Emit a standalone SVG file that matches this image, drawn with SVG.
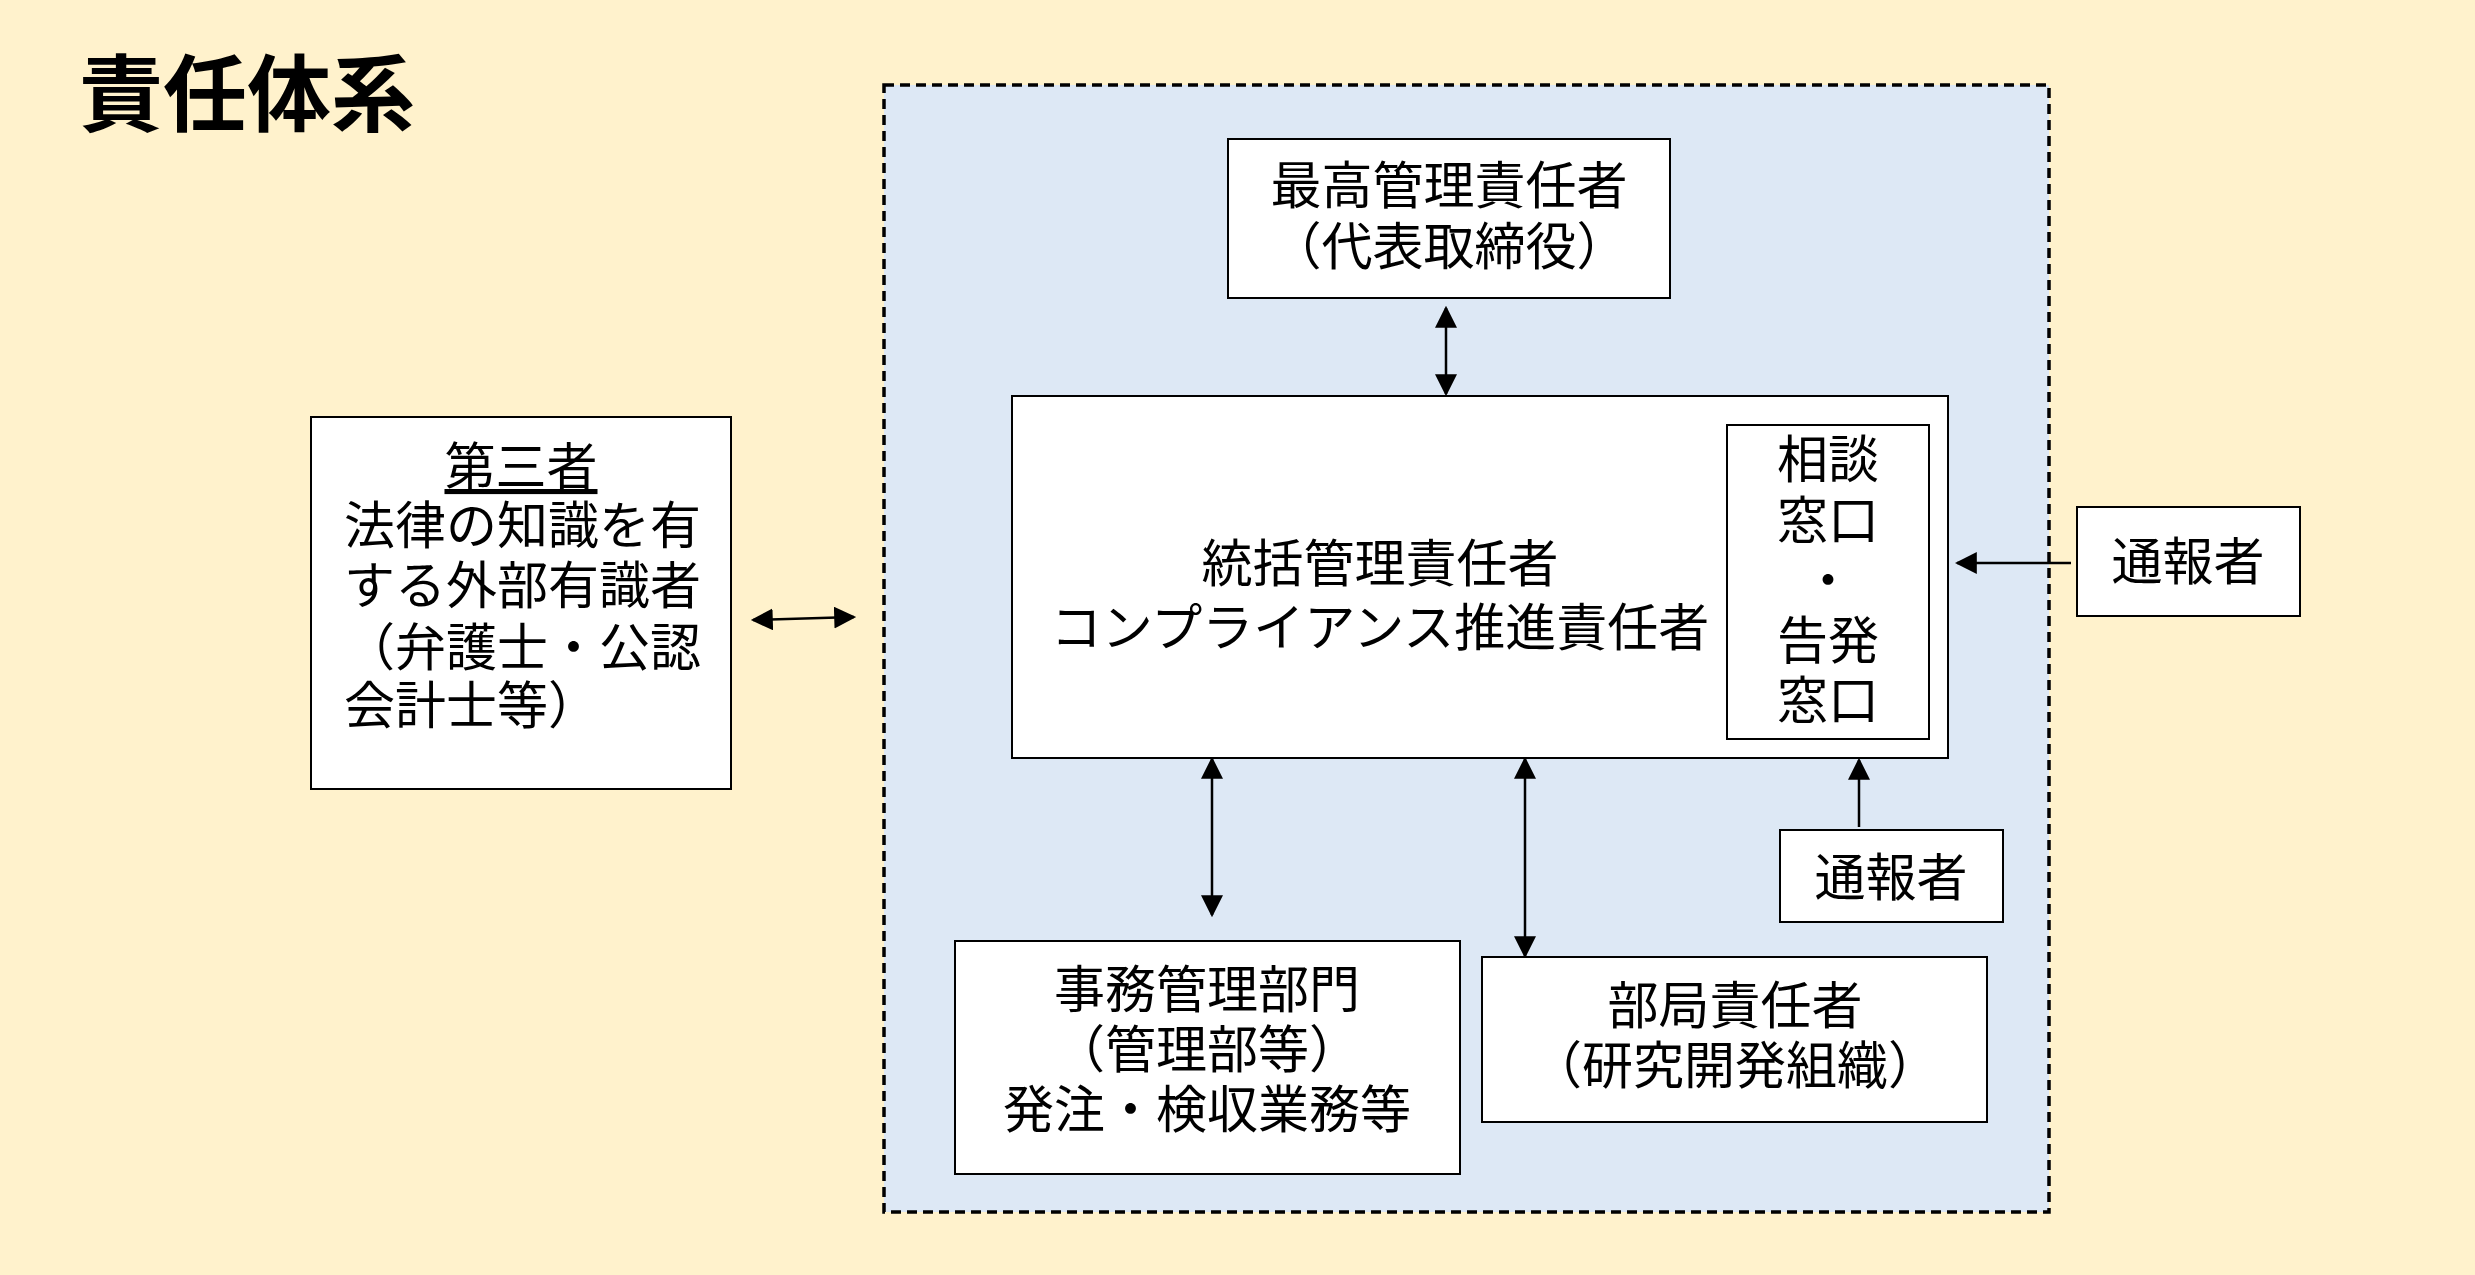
<svg xmlns="http://www.w3.org/2000/svg" width="2475" height="1275" viewBox="0 0 2475 1275">
<style>
text{font-family:"Noto Sans CJK JP","Noto Sans",sans-serif;font-size:51px;fill:#000;dominant-baseline:central}
.c{text-anchor:middle}
.b{fill:#fff;stroke:#000;stroke-width:2}
.l{stroke:#000;stroke-width:2.5;fill:none}
</style>
<defs><marker id="m" viewBox="0 0 10 10" refX="9" refY="5" markerWidth="22" markerHeight="22" markerUnits="userSpaceOnUse" orient="auto-start-reverse"><path d="M0,0L10,5L0,10z" fill="#000"/></marker></defs>
<rect width="2475" height="1275" fill="#fff2cc"/>
<text x="79" y="88" style="font-size:84px;font-weight:bold">責任体系</text>
<rect x="884" y="85" width="1165" height="1127" fill="#dde8f5" stroke="#000" stroke-width="3.5" stroke-dasharray="10,6"/>
<g id="top"><rect class="b" x="1228" y="139" width="442" height="159"/><text class="c" x="1449" y="182">最高管理責任者</text><text class="c" x="1449" y="243">（代表取締役）</text></g>
<g id="center"><rect class="b" x="1012" y="396" width="936" height="362"/><text class="c" x="1380" y="560">統括管理責任者</text><text class="c" x="1380" y="624">コンプライアンス推進責任者</text></g>
<g id="window"><rect class="b" x="1727" y="425" width="202" height="314"/><text class="c" x="1828" y="456">相談</text><text class="c" x="1828" y="517">窓口</text><text class="c" x="1828" y="577">・</text><text class="c" x="1828" y="637">告発</text><text class="c" x="1828" y="697">窓口</text></g>
<g id="third"><rect class="b" x="311" y="417" width="420" height="372"/><text class="c" x="521" y="463" text-decoration="underline">第三者</text><text x="344" y="522">法律の知識を有</text><text x="344" y="582">する外部有識者</text><text x="344" y="644">（弁護士・公認</text><text x="344" y="702">会計士等）</text></g>
<g id="rep1"><rect class="b" x="2077" y="507" width="223" height="109"/><text class="c" x="2188" y="558">通報者</text></g>
<g id="rep2"><rect class="b" x="1780" y="830" width="223" height="92"/><text class="c" x="1891" y="874">通報者</text></g>
<g id="jimu"><rect class="b" x="955" y="941" width="505" height="233"/><text class="c" x="1207" y="986">事務管理部門</text><text class="c" x="1207" y="1046">（管理部等）</text><text class="c" x="1207" y="1106">発注・検収業務等</text></g>
<g id="bukyoku"><rect class="b" x="1482" y="957" width="505" height="165"/><text class="c" x="1735" y="1002">部局責任者</text><text class="c" x="1735" y="1062">（研究開発組織）</text></g>
<g id="connectors">
<line class="l" x1="753" y1="620" x2="854" y2="617" marker-start="url(#m)" marker-end="url(#m)"/>
<line class="l" x1="2071" y1="563" x2="1957" y2="563" marker-end="url(#m)"/>
<line class="l" x1="1859" y1="827" x2="1859" y2="760" marker-end="url(#m)"/>
<line class="l" x1="1446" y1="308" x2="1446" y2="394" marker-start="url(#m)" marker-end="url(#m)"/>
<line class="l" x1="1212" y1="759" x2="1212" y2="915" marker-start="url(#m)" marker-end="url(#m)"/>
<line class="l" x1="1525" y1="759" x2="1525" y2="956" marker-start="url(#m)" marker-end="url(#m)"/>
</g>
</svg>
